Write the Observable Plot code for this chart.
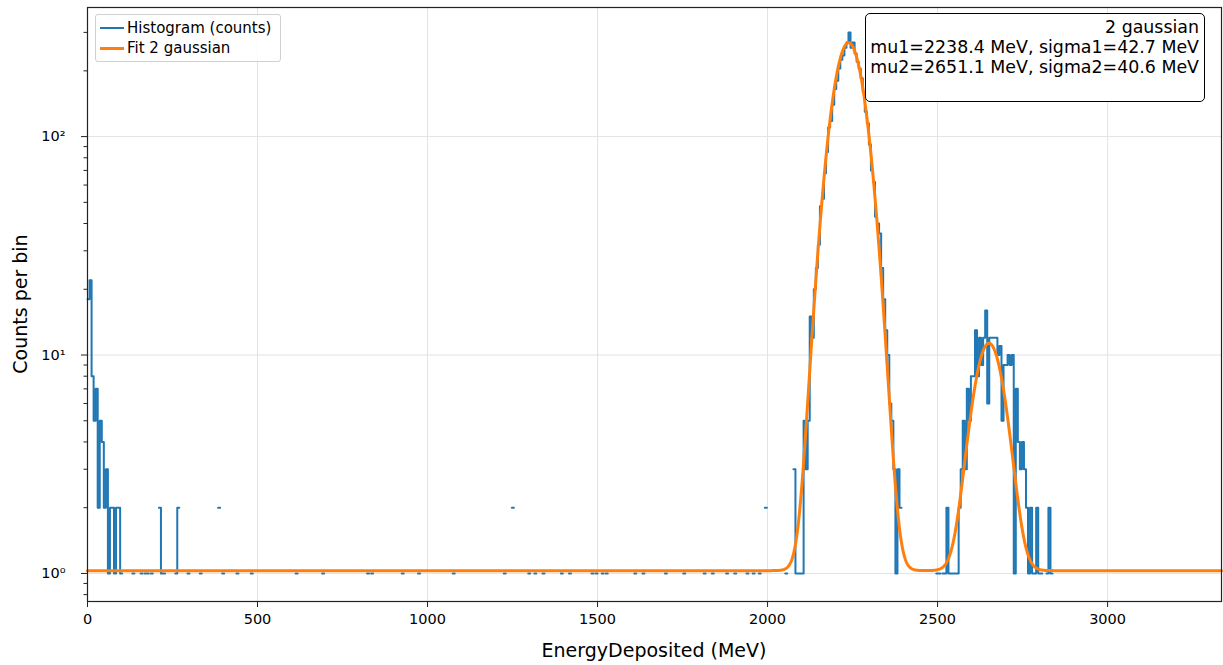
<!DOCTYPE html>
<html>
<head>
<meta charset="utf-8">
<script src="https://cdn.jsdelivr.net/npm/d3@7"></script>
<script src="https://cdn.jsdelivr.net/npm/@observablehq/plot@0.6"></script>
<style>
  html, body { margin: 0; padding: 0; background: #fff; }
  body { font-family: "DejaVu Sans", sans-serif; color: #000; }
  #wrap { position: relative; width: 1223px; height: 665px; overflow: hidden; }
  #wrap svg { position: absolute; left: 0; top: 0; }
  .legend { position: absolute; left: 95px; top: 14px; width: 184px; height: 46px;
    border: 1px solid #d0d0d0; border-radius: 3px; background: rgba(255,255,255,0.85); }
  .legend .row { position: absolute; left: 0; height: 20px; width: 100%; }
  .legend .sw { position: absolute; left: 4px; width: 24px; }
  .legend .lab { position: absolute; left: 31px; top: 0; font-size: 15px; line-height: 20px; white-space: nowrap; }
  .note { position: absolute; left: 865px; top: 13px; width: 338px; height: 87px;
    border: 1.3px solid #000; border-radius: 5px; background: #fff; }
  .note .txt { position: absolute; right: 5px; top: 3px; text-align: right; font-size: 17.4px; line-height: 20px; white-space: pre; }
  .xlabel { position: absolute; left: 87px; width: 1134px; top: 639px; text-align: center; font-size: 19px; line-height: 22px; }
  .ylabel { position: absolute; left: 20px; top: 304px; font-size: 19px; line-height: 22px; white-space: nowrap;
    transform: translate(-50%, -50%) rotate(-90deg); }
</style>
</head>
<body>
<div id="wrap"></div>
<script>
// ---- axis definitions ----
const xMax = 3335;
const xTicks = [0, 500, 1000, 1500, 2000, 2500, 3000];
const yMajor = [1, 10, 100];
const yTickLabels = ["10\u2070", "10\u00B9", "10\u00B2"];
const yMinor = [0.8, 0.9, 2, 3, 4, 5, 6, 7, 8, 9, 20, 30, 40, 50, 60, 70, 80, 90, 200, 300];
const yDomain = [0.744, 390];

// ---- histogram (counts per 6 MeV bin) ----
const binWidth = 6;
const lowStart = 0;
const lowCounts = [18, 22, 8, 5, 7, 2, 5, 4, 2, 3, 1, 2, 2, 1, 2, 2, 1];
const onesAt = [132, 156, 168, 174, 186, 218, 224, 260, 294, 332, 397, 441, 482,
  612, 691, 824, 838, 929, 976, 1076, 1226, 1297, 1318, 1341, 1397, 1418, 1485, 1494,
  1515, 1529, 1612, 1635, 1703, 1753, 1812, 1838, 1879, 1903, 1941, 1958, 1979];
const twosAt = [213, 266, 387, 1253, 1994];
const peak1Start = 2052;
const peak1Counts = [1, 0, 0, 0, 3, 1, 1, 1, 1, 5, 3, 5, 15, 12, 20, 25, 32, 48, 52, 68,
  85, 110, 118, 140, 165, 180, 205, 225, 235, 255, 270, 300, 255, 270, 240, 220, 205, 185,
  160, 130, 115, 92, 70, 62, 43, 40, 36, 25, 18, 13, 10, 6, 5, 3, 1, 3, 2];
const peak2Start = 2496;
const peak2Counts = [1, 1, 0, 1, 1, 2, 1, 1, 1, 1, 1, 2, 3, 5, 3, 7, 5, 8, 8, 13, 8, 12, 9,
  12, 16, 6, 12, 12, 12, 12, 10, 11, 5, 9, 9, 10, 9, 10, 1, 7, 4, 3, 4, 3, 2, 1, 2, 1, 1, 2,
  1, 1, 0, 0, 1, 2, 1];

// ---- fit parameters (2 gaussians + flat baseline) ----
const fitBaseline = 1.03;
const amp1 = 268, mu1 = 2238.4, sigma1 = 42.7;
const amp2 = 10.3, mu2 = 2651.1, sigma2 = 40.6;

// ---- build bins ----
const nBins = Math.ceil(xMax / binWidth);
const counts = new Array(nBins).fill(0);
lowCounts.forEach((c, i) => { counts[lowStart / binWidth + i] = c; });
onesAt.forEach(e => { const i = Math.floor(e / binWidth); counts[i] = Math.max(counts[i], 1); });
twosAt.forEach(e => { const i = Math.floor(e / binWidth); counts[i] = Math.max(counts[i], 2); });
peak1Counts.forEach((c, i) => { counts[peak1Start / binWidth + i] = c; });
peak2Counts.forEach((c, i) => { counts[peak2Start / binWidth + i] = c; });

const histPts = [];
counts.forEach((c, i) => {
  const x0 = i * binWidth, x1 = (i + 1) * binWidth;
  if (c > 0) { histPts.push({x: x0, y: c}); histPts.push({x: x1, y: c}); }
  else { histPts.push({x: x0, y: NaN}); }
});

const fitPts = d3.range(0, xMax + 1, 1).map(x => ({
  x,
  y: fitBaseline
    + amp1 * Math.exp(-((x - mu1) ** 2) / (2 * sigma1 ** 2))
    + amp2 * Math.exp(-((x - mu2) ** 2) / (2 * sigma2 ** 2))
}));

const blue = "#1f77b4", orange = "#ff7f0e";

const chart = Plot.plot({
  width: 1223,
  height: 665,
  marginLeft: 87,
  marginRight: 2,
  marginTop: 7,
  marginBottom: 64,
  style: { fontFamily: "DejaVu Sans, sans-serif", color: "#000", background: "transparent" },
  x: { domain: [0, xMax], axis: null },
  y: { type: "log", domain: yDomain, axis: null },
  marks: [
    Plot.gridX(xTicks, { stroke: "#e3e3e3", strokeOpacity: 1, strokeWidth: 1 }),
    Plot.gridY(yMajor, { stroke: "#e3e3e3", strokeOpacity: 1, strokeWidth: 1 }),
    Plot.line(histPts, { x: "x", y: "y", stroke: blue, strokeWidth: 2 }),
    Plot.line(fitPts, { x: "x", y: "y", stroke: orange, strokeWidth: 3 }),
    Plot.frame({ stroke: "#222", strokeWidth: 1.2 }),
    Plot.axisX(xTicks, { tickSize: 6, tickPadding: 6, tickFormat: d => String(d), label: null,
      stroke: "#222", fill: "#000", fontSize: 14.5, fontFamily: "DejaVu Sans, sans-serif" }),
    Plot.axisY(yMajor, { tickSize: 6, tickFormat: () => "", label: null, stroke: "#222" }),
    Plot.axisY(yMinor, { tickSize: 3.5, tickFormat: () => "", label: null, stroke: "#222" }),
    Plot.text(yMajor, { y: d => d, text: d => yTickLabels[yMajor.indexOf(d)],
      frameAnchor: "left", textAnchor: "end", dx: -22, fontSize: 14.5,
      fontFamily: "DejaVu Sans, sans-serif", fill: "#000" })
  ]
});

const wrap = document.getElementById("wrap");
wrap.appendChild(chart);

// legend
const legend = document.createElement("div");
legend.className = "legend";
[["Histogram (counts)", blue, 2], ["Fit 2 gaussian", orange, 3]].forEach(([t, c, w], i) => {
  const row = document.createElement("div");
  row.className = "row";
  row.style.top = (3 + i * 20) + "px";
  const sw = document.createElement("div");
  sw.className = "sw";
  sw.style.background = c;
  sw.style.height = w + "px";
  sw.style.top = (10 - w / 2) + "px";
  const lab = document.createElement("div");
  lab.className = "lab";
  lab.textContent = t;
  row.appendChild(sw); row.appendChild(lab);
  legend.appendChild(row);
});
wrap.appendChild(legend);

// annotation box
const note = document.createElement("div");
note.className = "note";
const txt = document.createElement("div");
txt.className = "txt";
txt.textContent = "2 gaussian\n" +
  `mu1=${mu1.toFixed(1)} MeV, sigma1=${sigma1.toFixed(1)} MeV\n` +
  `mu2=${mu2.toFixed(1)} MeV, sigma2=${sigma2.toFixed(1)} MeV`;
note.appendChild(txt);
wrap.appendChild(note);

// axis labels
const xl = document.createElement("div");
xl.className = "xlabel";
xl.textContent = "EnergyDeposited (MeV)";
wrap.appendChild(xl);
const yl = document.createElement("div");
yl.className = "ylabel";
yl.textContent = "Counts per bin";
wrap.appendChild(yl);
</script>
</body>
</html>
